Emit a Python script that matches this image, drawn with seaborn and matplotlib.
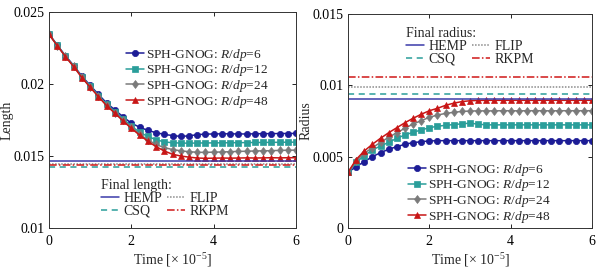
import numpy as np
import pandas as pd
import matplotlib
matplotlib.use("Agg")
import matplotlib.pyplot as plt
import seaborn as sns

# tempo (x 1e-5)
t = [0.0, 0.2, 0.4, 0.6, 0.8, 1.0, 1.2, 1.4, 1.6, 1.8, 2.0, 2.2, 2.4, 2.6, 2.8, 3.0,
     3.2, 3.4, 3.6, 3.8, 4.0, 4.2, 4.4, 4.6, 4.8, 5.0, 5.2, 5.4, 5.6, 5.8, 6.0]

labels = ["SPH-GNOG: $R/dp$=6", "SPH-GNOG: $R/dp$=12",
          "SPH-GNOG: $R/dp$=24", "SPH-GNOG: $R/dp$=48"]

# comprimento
len_6 = [0.02348, 0.02270, 0.02196, 0.02128, 0.02054, 0.01990, 0.01928, 0.01868, 0.01820, 0.01772,
         0.01728, 0.01700, 0.01678, 0.01662, 0.01650, 0.01642, 0.01636, 0.01640, 0.01648, 0.01652,
         0.01653, 0.01654, 0.01654, 0.01653, 0.01653, 0.01654, 0.01655, 0.01655, 0.01656, 0.01656, 0.01657]
len_12 = [0.02347, 0.02268, 0.02193, 0.02124, 0.02049, 0.01984, 0.01920, 0.01858, 0.01808, 0.01757,
          0.01708, 0.01665, 0.01636, 0.01613, 0.01598, 0.01592, 0.01590, 0.01589, 0.01590, 0.01591,
          0.01591, 0.01592, 0.01592, 0.01593, 0.01593, 0.01594, 0.01594, 0.01595, 0.01595, 0.01596, 0.01596]
len_24 = [0.02346, 0.02267, 0.02192, 0.02122, 0.02046, 0.01980, 0.01915, 0.01853, 0.01801, 0.01748,
          0.01698, 0.01652, 0.01612, 0.01580, 0.01558, 0.01545, 0.01536, 0.01530, 0.01526, 0.01525,
          0.01527, 0.01528, 0.01530, 0.01532, 0.01533, 0.01535, 0.01536, 0.01537, 0.01539, 0.01540, 0.01541]
len_48 = [0.02345, 0.02266, 0.02190, 0.02120, 0.02044, 0.01977, 0.01912, 0.01849, 0.01797, 0.01743,
          0.01692, 0.01645, 0.01603, 0.01565, 0.01535, 0.01512, 0.01500, 0.01492, 0.01486, 0.01484,
          0.01485, 0.01486, 0.01485, 0.01486, 0.01487, 0.01486, 0.01487, 0.01488, 0.01487, 0.01488, 0.01488]

# raio
rad_6 = [0.00390, 0.00430, 0.00465, 0.00500, 0.00528, 0.00552, 0.00570, 0.00587, 0.00598, 0.00605,
         0.00610, 0.00612, 0.00612, 0.00612, 0.00612, 0.00612, 0.00612, 0.00612, 0.00612, 0.00612,
         0.00612, 0.00612, 0.00612, 0.00612, 0.00612, 0.00612, 0.00612, 0.00612, 0.00612, 0.00612, 0.00612]
rad_12 = [0.00390, 0.00460, 0.00507, 0.00547, 0.00575, 0.00600, 0.00629, 0.00652, 0.00671, 0.00687,
          0.00703, 0.00713, 0.00720, 0.00725, 0.00730, 0.00735, 0.00728, 0.00723, 0.00723, 0.00723,
          0.00723, 0.00723, 0.00723, 0.00723, 0.00723, 0.00723, 0.00723, 0.00723, 0.00723, 0.00723, 0.00723]
rad_24 = [0.00390, 0.00470, 0.00524, 0.00563, 0.00600, 0.00636, 0.00668, 0.00699, 0.00729, 0.00752,
          0.00776, 0.00792, 0.00803, 0.00811, 0.00817, 0.00820, 0.00821, 0.00821, 0.00821, 0.00822,
          0.00822, 0.00821, 0.00822, 0.00822, 0.00822, 0.00821, 0.00822, 0.00822, 0.00822, 0.00822, 0.00822]
rad_48 = [0.00390, 0.00480, 0.00540, 0.00587, 0.00629, 0.00668, 0.00703, 0.00738, 0.00769, 0.00797,
          0.00822, 0.00839, 0.00860, 0.00875, 0.00886, 0.00892, 0.00894, 0.00895, 0.00895, 0.00895,
          0.00895, 0.00895, 0.00895, 0.00895, 0.00895, 0.00895, 0.00895, 0.00895, 0.00895, 0.00895, 0.00895]

# valores finais de referência
ref_names = ["HEMP", "CSQ", "FLIP", "RKPM"]
final_length = [0.01465, 0.01424, 0.01441, 0.01437]
final_radius = [0.00902, 0.00939, 0.00986, 0.01061]

serie_cores = ["#1c1c96", "#2a9e9a", "#7a7a7a", "#c81616"]
serie_marcas = ["o", "s", "d", "^"]
ref_cores = ["#3a3aaa", "#2a9e9a", "#8a8a8a", "#d01818"]
ref_estilos = ["-", (0, (4, 3)), (0, (1, 1)), (0, (5, 1.5, 1, 1.5))]

sns.set_theme(style="ticks")
plt.rcParams["font.family"] = ["Liberation Serif", "DejaVu Serif"]
plt.rcParams["mathtext.fontset"] = "custom"
plt.rcParams["mathtext.it"] = "Liberation Serif:italic"
plt.rcParams["mathtext.rm"] = "Liberation Serif"
plt.rcParams["font.size"] = 10

fig = plt.figure(figsize=(5.98, 2.68), dpi=100)
ax1 = fig.add_axes([49 / 598, 1 - 228 / 268, 247 / 598, 216 / 268])
ax2 = fig.add_axes([348 / 598, 1 - 228 / 268, 244 / 598, 214 / 268])


def desenha(ax, series, finais):
    lin_series = []
    for vals, cor, mk, lab in zip(series, serie_cores, serie_marcas, labels):
        sns.lineplot(x=t, y=vals, ax=ax, color=cor, marker=mk, markersize=4.5,
                     markeredgecolor=cor, markeredgewidth=0.5, linewidth=1.1,
                     label=lab, legend=False)
        lin_series.append(ax.lines[-1])
    lin_ref = []
    for v, cor, ls, nome in zip(finais, ref_cores, ref_estilos, ref_names):
        lin_ref.append(ax.axhline(v, color=cor, linestyle=ls, linewidth=1.1, label=nome))
    return lin_series, lin_ref


def estilo(ax, ylim, yticks, ylabels, ylabel):
    ax.set_xlim(0, 6)
    ax.set_ylim(*ylim)
    ax.set_xticks([0, 2, 4, 6])
    ax.set_yticks(yticks)
    ax.set_yticklabels(ylabels)
    ax.tick_params(direction="in", top=True, right=True, length=3, width=0.6,
                   labelsize=10, pad=3, colors="black")
    ax.tick_params(axis="x", pad=5)
    for s in ax.spines.values():
        s.set_linewidth(0.7)
        s.set_color("#333333")
    ax.set_xlabel(r"Time [$\times$ 10$^{-5}$]", fontsize=10, labelpad=2)
    ax.set_ylabel(ylabel, fontsize=10, labelpad=0)


def legendas(ax, s, r, titulo, pos_s, pos_r):
    leg = ax.legend(handles=s, loc="upper left", bbox_to_anchor=pos_s,
                    frameon=False, fontsize=9.6, handlelength=1.35, handletextpad=0.2,
                    labelspacing=-0.02, borderpad=0, borderaxespad=0)
    ax.add_artist(leg)
    ax.legend(handles=r, ncol=2, title=titulo, alignment="left", loc="upper left",
              bbox_to_anchor=pos_r, frameon=False, fontsize=10, title_fontsize=10,
              handlelength=1.3, handletextpad=0.3, labelspacing=0.0, columnspacing=0.35,
              borderpad=0, borderaxespad=0)


s1, r1 = desenha(ax1, [len_6, len_12, len_24, len_48], final_length)
estilo(ax1, (0.01, 0.025), [0.01, 0.015, 0.02, 0.025],
       ["0.01", "0.015", "0.02", "0.025"], "Length")
legendas(ax1, s1, r1, "Final length:", (0.31, 0.84), (0.212, 0.228))

s2, r2 = desenha(ax2, [rad_6, rad_12, rad_24, rad_48], final_radius)
estilo(ax2, (0, 0.015), [0, 0.005, 0.01, 0.015],
       ["0", "0.005", "0.01", "0.015"], "Radius")
legendas(ax2, s2, r2, "Final radius:", (0.245, 0.31), (0.238, 0.94))

fig.savefig("out.png", dpi=100)
plt.close(fig)
